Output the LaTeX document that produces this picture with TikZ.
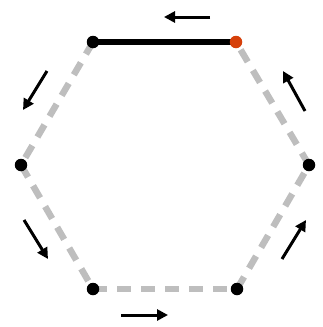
\documentclass[tikz,border=0pt]{standalone}
\usetikzlibrary{arrows.meta}
\definecolor{edgegray}{RGB}{190,190,190}
\definecolor{startred}{RGB}{214,64,10}
\tikzset{
  dashedge/.style={draw=edgegray, line width=6.5pt, dash pattern=on 14pt off 10pt},
  solidedge/.style={draw=black, line width=6.5pt},
  vdot/.style={circle, fill=black, inner sep=0pt, minimum size=12.5pt},
  rdot/.style={circle, fill=startred, inner sep=0pt, minimum size=12.5pt},
  dirarrow/.style={draw=black, line width=3pt, -{Triangle[length=11pt,width=11pt]}}
}
\begin{document}
\begin{tikzpicture}[x=1pt,y=-1pt]
\useasboundingbox (0,0) rectangle (322,327);
\coordinate (A) at (236,42);
\coordinate (B) at (93,42);
\coordinate (C) at (21,165);
\coordinate (D) at (93,289);
\coordinate (E) at (237,289);
\coordinate (F) at (309,165);
\draw[dashedge] (B) -- (C);
\draw[dashedge] (C) -- (D);
\draw[dashedge] (D) -- (E);
\draw[dashedge] (E) -- (F);
\draw[dashedge] (F) -- (A);
\draw[solidedge] (A) -- (B);
\node[rdot] (nA) at (A) {};
\node[vdot] (nB) at (B) {};
\node[vdot] (nC) at (C) {};
\node[vdot] (nD) at (D) {};
\node[vdot] (nE) at (E) {};
\node[vdot] (nF) at (F) {};
\coordinate (a1s) at (210,17); \coordinate (a1e) at (164,17);
\coordinate (a2s) at (47,71); \coordinate (a2e) at (23,110);
\coordinate (a3s) at (24,220); \coordinate (a3e) at (48,259);
\coordinate (a4s) at (121,315); \coordinate (a4e) at (168,315);
\coordinate (a5s) at (282,259); \coordinate (a5e) at (306,220);
\coordinate (a6s) at (305,111); \coordinate (a6e) at (283,71);
\draw[dirarrow] (a1s) -- (a1e);
\draw[dirarrow] (a2s) -- (a2e);
\draw[dirarrow] (a3s) -- (a3e);
\draw[dirarrow] (a4s) -- (a4e);
\draw[dirarrow] (a5s) -- (a5e);
\draw[dirarrow] (a6s) -- (a6e);
\end{tikzpicture}
\end{document}
